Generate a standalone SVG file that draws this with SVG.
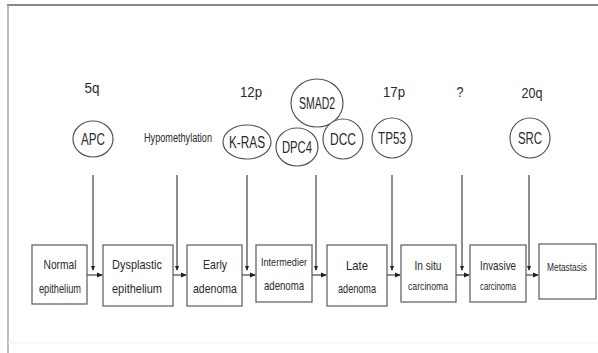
<svg xmlns="http://www.w3.org/2000/svg" width="598" height="353" viewBox="0 0 598 353">
<defs>
<marker id="ah" markerWidth="6" markerHeight="6" refX="5" refY="3" orient="auto" markerUnits="userSpaceOnUse">
<path d="M0,0.5 L6,3 L0,5.5 Z" fill="#222"/>
</marker>
<marker id="ad" markerWidth="5" markerHeight="5" refX="4" refY="2.5" orient="auto" markerUnits="userSpaceOnUse">
<path d="M0,0.5 L5,2.5 L0,4.5 Z" fill="#222"/>
</marker>
</defs>
<style>
.t{font-family:"Liberation Sans",Arial,sans-serif;fill:#2a2a2a;text-anchor:middle;}
.lbl{font-size:15px;}
.gene{font-size:16px;}
.box{font-size:13px;}
.sm{font-size:11px;}
.bx{fill:#fff;stroke:#666;stroke-width:1.3;}
.el{fill:#fff;stroke:#555;stroke-width:1.2;}
.ln{fill:none;stroke:#444;stroke-width:1.2;}
</style>
<rect x="0" y="0" width="598" height="353" fill="#fff"/>
<g id="frame">
<line x1="7" y1="5" x2="598" y2="5" stroke="#888" stroke-width="2"/>
<line x1="8" y1="5" x2="8" y2="353" stroke="#aaa" stroke-width="1.5"/>
<line x1="8" y1="343" x2="598" y2="343" stroke="#f0f0f0" stroke-width="1"/>
</g>
<g id="connectors">
<path class="ln" d="M93,175 V270" marker-end="url(#ad)"/>
<path class="ln" d="M87,275 H102" marker-end="url(#ah)"/>
<path class="ln" d="M177,175 V270" marker-end="url(#ad)"/>
<path class="ln" d="M173,275 H186" marker-end="url(#ah)"/>
<path class="ln" d="M247,175 V270" marker-end="url(#ad)"/>
<path class="ln" d="M242,275 H255" marker-end="url(#ah)"/>
<path class="ln" d="M316,175 V270" marker-end="url(#ad)"/>
<path class="ln" d="M312,275 H326" marker-end="url(#ah)"/>
<path class="ln" d="M392,175 V270" marker-end="url(#ad)"/>
<path class="ln" d="M387,275 H400" marker-end="url(#ah)"/>
<path class="ln" d="M462,175 V270" marker-end="url(#ad)"/>
<path class="ln" d="M456,275 H469" marker-end="url(#ah)"/>
<path class="ln" d="M529,175 V270" marker-end="url(#ad)"/>
<path class="ln" d="M526,275 H538" marker-end="url(#ah)"/>
</g>
<g id="loci">
<text class="t lbl" x="92" y="93" textLength="15" lengthAdjust="spacingAndGlyphs">5q</text>
<text class="t lbl" x="251" y="97" textLength="22" lengthAdjust="spacingAndGlyphs">12p</text>
<text class="t lbl" x="394" y="97" textLength="22" lengthAdjust="spacingAndGlyphs">17p</text>
<text class="t lbl" x="460" y="97" textLength="7" lengthAdjust="spacingAndGlyphs">?</text>
<text class="t lbl" x="532" y="98" textLength="21" lengthAdjust="spacingAndGlyphs">20q</text>
</g>
<g id="apc"><ellipse class="el" cx="93" cy="139" rx="20" ry="18"/><text class="t gene" x="93" y="145" textLength="24" lengthAdjust="spacingAndGlyphs">APC</text></g>
<g id="hypomethylation"><text class="t" style="font-size:12px" x="178" y="142" textLength="68" lengthAdjust="spacingAndGlyphs">Hypomethylation</text></g>
<g id="kras"><ellipse class="el" cx="247" cy="142" rx="24" ry="17"/><text class="t gene" x="247" y="148" textLength="36" lengthAdjust="spacingAndGlyphs">K-RAS</text></g>
<g id="smad2"><ellipse class="el" cx="317" cy="103" rx="26" ry="24"/><text class="t gene" x="317" y="109" textLength="36" lengthAdjust="spacingAndGlyphs">SMAD2</text></g>
<g id="dpc4"><ellipse class="el" cx="297" cy="147" rx="21" ry="19"/><text class="t gene" x="297" y="153" textLength="30" lengthAdjust="spacingAndGlyphs">DPC4</text></g>
<g id="dcc"><ellipse class="el" cx="343" cy="139" rx="20" ry="20"/><text class="t gene" x="343" y="145" textLength="26" lengthAdjust="spacingAndGlyphs">DCC</text></g>
<g id="tp53"><ellipse class="el" cx="392" cy="138" rx="20" ry="20"/><text class="t gene" x="392" y="144" textLength="28" lengthAdjust="spacingAndGlyphs">TP53</text></g>
<g id="src"><ellipse class="el" cx="530" cy="138" rx="20" ry="20"/><text class="t gene" x="530" y="144" textLength="24" lengthAdjust="spacingAndGlyphs">SRC</text></g>
<g id="normal"><rect class="bx" x="32" y="245" width="55" height="59"/>
<text class="t box" x="60" y="269" textLength="33" lengthAdjust="spacingAndGlyphs">Normal</text>
<text class="t box" x="60" y="293" textLength="42" lengthAdjust="spacingAndGlyphs">epithelium</text></g>
<g id="dysplastic"><rect class="bx" x="103" y="245" width="70" height="61"/>
<text class="t box" x="137" y="269" textLength="50" lengthAdjust="spacingAndGlyphs">Dysplastic</text>
<text class="t box" x="137" y="293" textLength="50" lengthAdjust="spacingAndGlyphs">epithelium</text></g>
<g id="early"><rect class="bx" x="187" y="245" width="55" height="61"/>
<text class="t box" x="215" y="269" textLength="24" lengthAdjust="spacingAndGlyphs">Early</text>
<text class="t box" x="215" y="293" textLength="44" lengthAdjust="spacingAndGlyphs">adenoma</text></g>
<g id="intermedier"><rect class="bx" x="256" y="245" width="56" height="57"/>
<text class="t sm" x="284" y="266" textLength="46" lengthAdjust="spacingAndGlyphs">Intermedier</text>
<text class="t box" x="284" y="290" textLength="40" lengthAdjust="spacingAndGlyphs">adenoma</text></g>
<g id="late"><rect class="bx" x="327" y="245" width="60" height="61"/>
<text class="t box" x="357" y="270" textLength="22" lengthAdjust="spacingAndGlyphs">Late</text>
<text class="t box" x="357" y="293" textLength="38" lengthAdjust="spacingAndGlyphs">adenoma</text></g>
<g id="insitu"><rect class="bx" x="401" y="245" width="55" height="57"/>
<text class="t box" x="428" y="270" textLength="27" lengthAdjust="spacingAndGlyphs">In situ</text>
<text class="t sm" x="428" y="290" textLength="40" lengthAdjust="spacingAndGlyphs">carcinoma</text></g>
<g id="invasive"><rect class="bx" x="470" y="245" width="56" height="57"/>
<text class="t box" x="498" y="270" textLength="36" lengthAdjust="spacingAndGlyphs">Invasive</text>
<text class="t sm" x="498" y="290" textLength="36" lengthAdjust="spacingAndGlyphs">carcinoma</text></g>
<g id="metastasis"><rect class="bx" x="539" y="244" width="57" height="55"/>
<text class="t" style="font-size:10px" x="567" y="271" textLength="40" lengthAdjust="spacingAndGlyphs">Metastasis</text></g>
</svg>
